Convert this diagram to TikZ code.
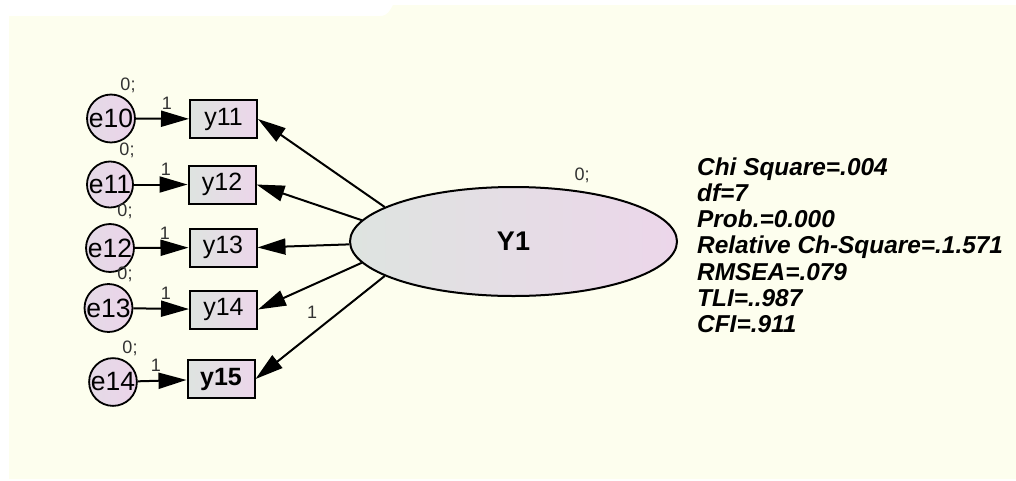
\documentclass[tikz,border=0pt]{standalone}
\usepackage{fontspec}
\setmainfont{Liberation Sans}
\usetikzlibrary{arrows.meta,shapes.geometric}
\definecolor{bgc}{RGB}{253,254,238}
\definecolor{gleft}{RGB}{222,228,224}
\definecolor{gright}{RGB}{236,214,234}
\definecolor{cleft}{RGB}{228,218,230}
\definecolor{cright}{RGB}{236,212,234}
\definecolor{lbl}{RGB}{50,50,50}
\begin{document}
\begin{tikzpicture}[x=1pt,y=-1pt,
  obs/.style={draw=black,line width=2pt,minimum width=67pt,minimum height=38pt,inner sep=0pt,
    left color=gleft,right color=gright,font=\fontsize{25}{28}\selectfont},
  err/.style={circle,draw=black,line width=1.8pt,minimum size=40pt,inner sep=0pt,
    left color=cleft,right color=cright,font=\fontsize{26.5}{28}\selectfont},
  lat/.style={ellipse,draw=black,line width=2pt,minimum width=327pt,minimum height=109pt,inner sep=0pt,
    left color=gleft,right color=gright,font=\bfseries\fontsize{27}{30}\selectfont},
  arr/.style={-{Triangle[length=28pt,width=16pt]},line width=2pt},
  zl/.style={text=lbl,font=\fontsize{18}{20}\selectfont,inner sep=0pt},
  st/.style={anchor=base west,inner sep=0pt,font=\bfseries\itshape\fontsize{24.4}{26}\selectfont}]
\useasboundingbox (0,0) rectangle (1016,480);
\fill[bgc] (9,479) -- (9,16) -- (380,16) .. controls (388,16) and (390,10) .. (393,5) -- (1016,5) -- (1016,479) -- cycle;

% latent
\node[lat] (Y1) at (513.5,241.5) {Y1};
\node[zl] (zY1) at (582,175) {0;};

% observed
\node[obs] (y11) at (223.5,119) {y11};
\node[obs] (y12) at (222,184.5) {y12};
\node[obs] (y13) at (223,247.5) {y13};
\node[obs] (y14) at (223.5,309.5) {y14};
\node[obs,font=\bfseries\fontsize{25}{28}\selectfont] (y15) at (221,379) {y15};

% errors
\node[err] (e10) at (111,118.5) {e10};
\node[err] (e11) at (110,184.5) {e11};
\node[err] (e12) at (110,248) {e12};
\node[err] (e13) at (108.5,308) {e13};
\node[err] (e14) at (113,382) {e14};

% error variance labels
\node[zl] (z10) at (128,85) {0;};
\node[zl] (z11) at (127,150) {0;};
\node[zl] (z12) at (125,211) {0;};
\node[zl] (z13) at (125,274) {0;};
\node[zl] (z14) at (130,348) {0;};

% error paths
\draw[arr] (e10) -- (y11);
\draw[arr] (e11) -- (y12);
\draw[arr] (e12) -- (y13);
\draw[arr] (e13) -- (y14);
\draw[arr] (e14) -- (y15);
\node[zl] (o10) at (167,103) {1};
\node[zl] (o11) at (166,169) {1};
\node[zl] (o12) at (165,233) {1};
\node[zl] (o13) at (166,293) {1};
\node[zl] (o14) at (156,365) {1};

% loadings
\draw[arr] (Y1.165.6) -- (y11.east);
\draw[arr] (Y1.172.9) -- (y12.east);
\draw[arr] (Y1.181.2) -- (y13.east);
\draw[arr] (Y1.188.8) -- (y14.east);
\draw[arr] (Y1.195.2) -- (y15.east);
\node[zl] (o15) at (312,312) {1};

% fit statistics
\node[st] (s1) at (697,175) {Chi Square=.004};
\node[st] (s2) at (697,201.3) {df=7};
\node[st] (s3) at (697,227.6) {Prob.=0.000};
\node[st] (s4) at (697,253.9) {Relative Ch-Square=.1.571};
\node[st] (s5) at (697,280.2) {RMSEA=.079};
\node[st] (s6) at (697,306.5) {TLI=..987};
\node[st] (s7) at (697,332.8) {CFI=.911};
\end{tikzpicture}
\end{document}
